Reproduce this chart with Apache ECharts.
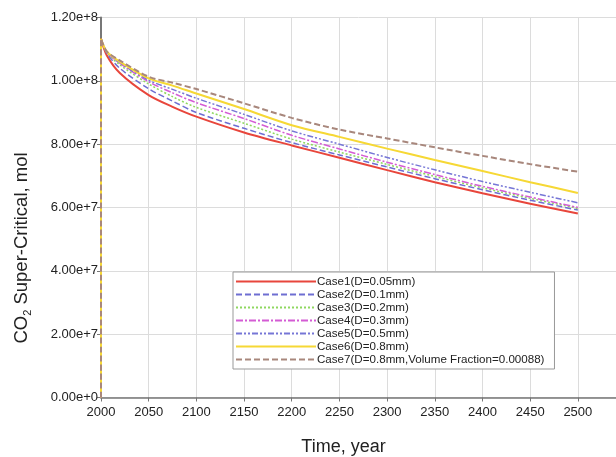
<!DOCTYPE html>
<html><head><meta charset="utf-8">
<script src="https://cdn.jsdelivr.net/npm/echarts@6/dist/echarts.min.js"></script>
<style>html,body{margin:0;padding:0;background:#fff}#c{width:616px;height:457px}</style>
</head><body><div id="c"></div>
<script>
const years = [2000, 2000, 2006, 2020, 2050, 2075, 2100, 2150, 2200, 2250, 2300, 2350, 2400, 2450, 2500];
const seriesNames = ["Case1(D=0.05mm)", "Case2(D=0.1mm)", "Case3(D=0.2mm)", "Case4(D=0.3mm)", "Case5(D=0.5mm)", "Case6(D=0.8mm)", "Case7(D=0.8mm,Volume Fraction=0.00088)"];
// values in millions of mol
const case1 = [0, 113.3, 108.1, 102.4, 95.5, 91.8, 88.7, 83.7, 79.6, 75.7, 71.8, 68.0, 64.5, 61.2, 58.1];
const case2 = [0, 113.3, 108.8, 103.9, 97.5, 93.6, 90.0, 85.0, 80.5, 76.6, 72.8, 69.1, 65.6, 62.3, 59.2];
const case3 = [0, 113.3, 109.0, 105.0, 99.0, 95.0, 91.6, 86.6, 81.6, 77.5, 73.6, 69.8, 66.2, 62.9, 59.7];
const case4 = [0, 113.3, 109.1, 105.5, 99.7, 96.2, 93.1, 88.1, 82.8, 78.5, 74.3, 70.4, 66.7, 63.3, 60.0];
const case5 = [0, 113.3, 109.2, 105.7, 100.2, 97.3, 94.5, 89.4, 84.2, 80.0, 75.8, 71.9, 68.2, 64.8, 61.5];
const case6 = [0, 113.3, 109.3, 106.0, 100.8, 98.5, 96.0, 91.1, 86.0, 82.3, 78.6, 75.0, 71.5, 68.0, 64.6];
const case7 = [0, 113.3, 109.3, 106.4, 101.3, 99.4, 97.4, 92.9, 88.3, 84.6, 81.8, 79.0, 76.3, 73.7, 71.3];
const allCases = [case1, case2, case3, case4, case5, case6, case7];
const colors = ["#e8463c", "#6e6ed2", "#8fd860", "#d45cd4", "#7676d6", "#f6d835", "#a8877c"];
const dashes = ["solid", [6, 3], [2, 2], [7, 2, 2, 2], [6, 2, 2, 2, 2, 2], "solid", [6, 3]];
const widths = [2, 1.5, 1.5, 1.5, 1.5, 2, 2];

const chart = echarts.init(document.getElementById('c'), null, {renderer: 'canvas'});
const series = allCases.map((arr, i) => ({
  name: seriesNames[i],
  type: 'line',
  symbol: 'none',
  smooth: 0.3,
  data: arr.map((v, k) => [years[k], v * 1e6]),
  lineStyle: {color: colors[i], width: widths[i], type: dashes[i]},
  itemStyle: {color: colors[i]},
  z: 2 + i
}));

chart.setOption({
  backgroundColor: '#fff',
  animation: false,
  grid: {left: 101, right: 0, top: 17.5, height: 380, containLabel: false, outerBoundsMode: 'none'},
  legend: {
    orient: 'vertical',
    left: 233, top: 272,
    width: 325,
    itemWidth: 80, itemHeight: 11, itemGap: 0,
    padding: [3, 10, 3, 2],
    backgroundColor: '#fff',
    borderColor: '#999', borderWidth: 1, borderRadius: 0,
    itemStyle: {opacity: 0},
    textStyle: {fontFamily: 'Liberation Sans, Arial', fontSize: 11.6, lineHeight: 13, height: 13, color: '#222', padding: [0, 0, 0, -4]},
    data: seriesNames
  },
  graphic: [{
    type: 'text',
    x: 22, y: 248,
    rotation: Math.PI / 2,
    style: {
      text: 'CO{sub|2} Super-Critical, mol',
      fontFamily: 'Liberation Sans, Arial', fontSize: 18.5, fill: '#222',
      align: 'center', verticalAlign: 'middle',
      rich: {sub: {fontSize: 11, fontFamily: 'Liberation Sans, Arial', fill: '#222', padding: [12, 0, 0, 0]}}
    }
  }],
  xAxis: {
    type: 'value', min: 2000, max: 2540, interval: 50,
    name: 'Time, year', nameLocation: 'middle', nameGap: 41,
    nameTextStyle: {fontFamily: 'Liberation Sans, Arial', fontSize: 18, color: '#222', padding: [0, 30, 0, 0]},
    axisLine: {lineStyle: {color: '#777', width: 1.5}},
    axisTick: {show: true, length: 4, inside: false, lineStyle: {color: '#777'}},
    axisLabel: {fontFamily: 'Liberation Sans, Arial', fontSize: 13, color: '#222', margin: 8,
      formatter: v => (v % 50 === 0 && v <= 2500) ? String(v) : ''},
    splitLine: {show: true, lineStyle: {color: '#dcdcdc', width: 1}}
  },
  yAxis: {
    type: 'value', min: 0, max: 1.2e8, interval: 2e7,
    axisLine: {show: true, lineStyle: {color: '#777', width: 2}},
    axisTick: {show: true, length: 4, lineStyle: {color: '#777'}},
    axisLabel: {fontFamily: 'Liberation Sans, Arial', fontSize: 13, color: '#222', margin: 3,
      formatter: v => v.toExponential(2)},
    splitLine: {show: true, lineStyle: {color: '#dcdcdc', width: 1}}
  },
  series: series
});
</script></body></html>
